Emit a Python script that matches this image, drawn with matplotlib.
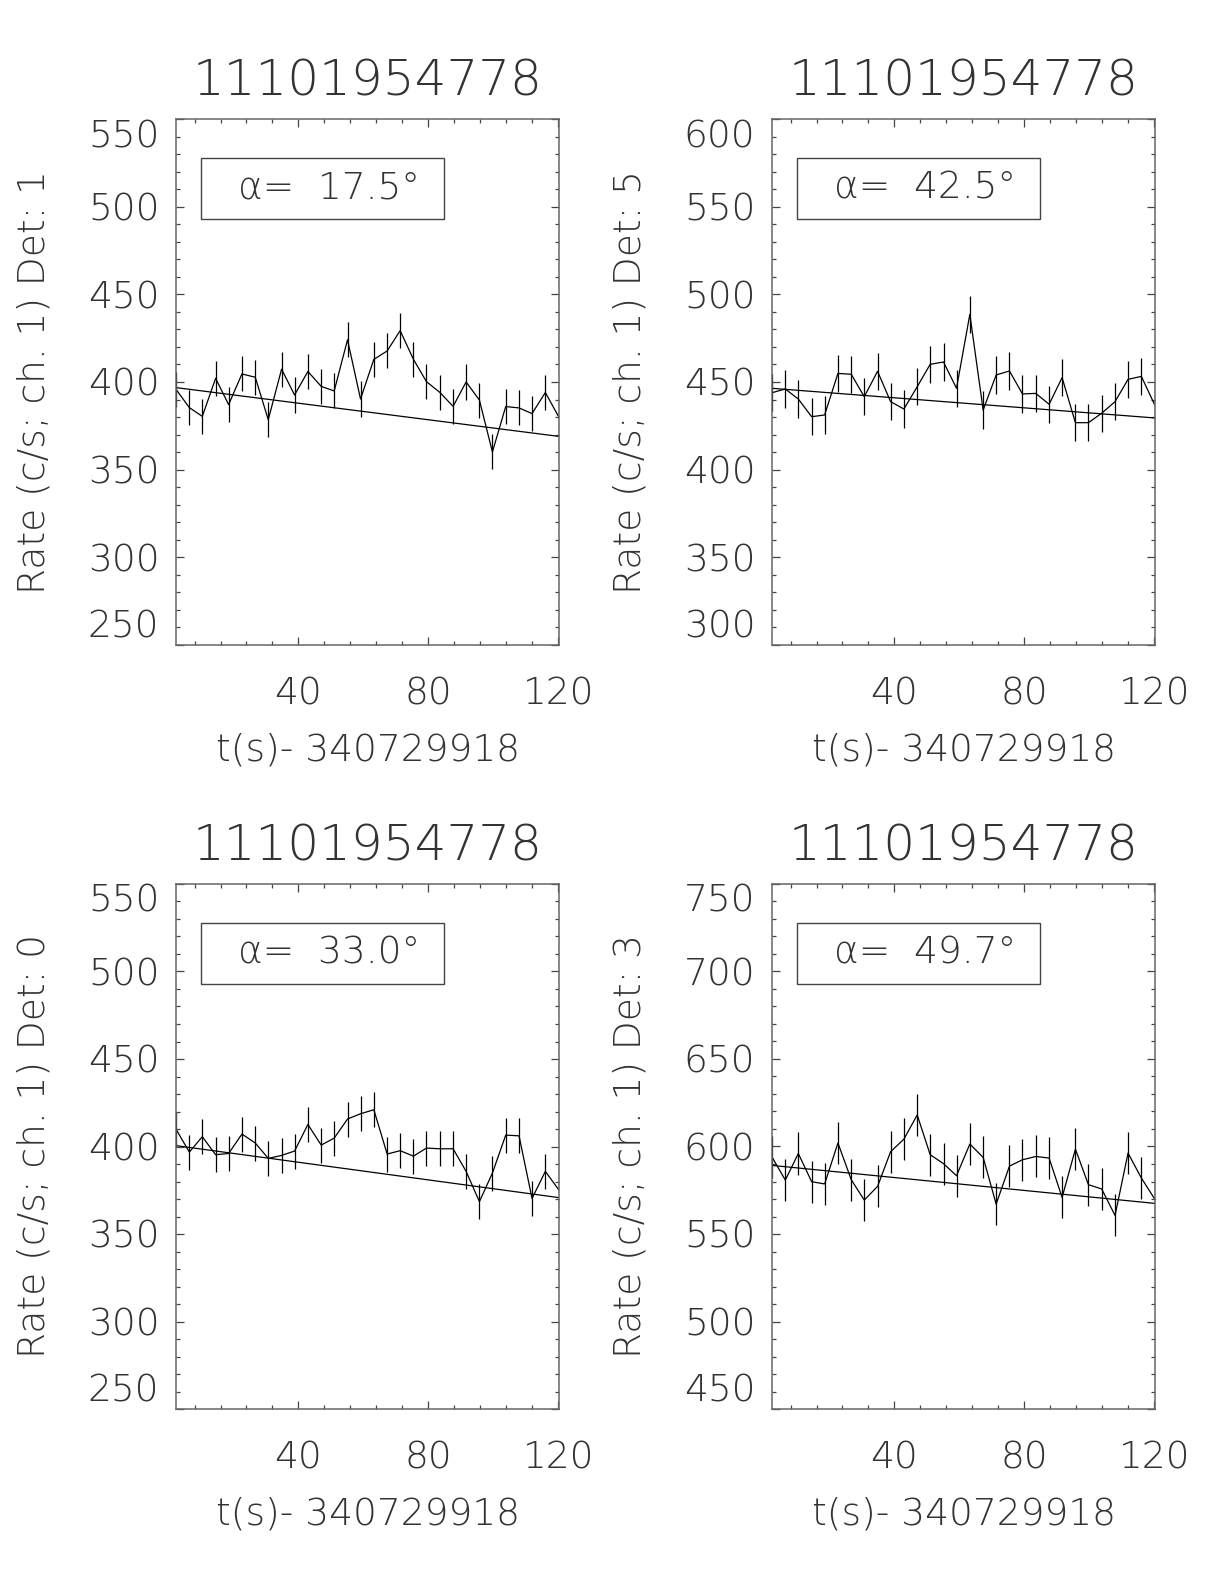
import numpy as np
import matplotlib
matplotlib.use("Agg")
import matplotlib.pyplot as plt
from matplotlib.patches import Rectangle
from matplotlib import font_manager

# thin font to mimic the IDL vector font, if one is installed
fam, wt = 'DejaVu Sans', 'normal'
for name in ['DejaVu Sans', 'Lato', 'Roboto', 'Open Sans', 'Inter', 'Noto Sans']:
    light = [f for f in font_manager.fontManager.ttflist
             if f.name == name and f.style == 'normal' and isinstance(f.weight, int) and f.weight <= 300]
    if light:
        fam = name
        wt = max(f.weight for f in light)
        break

plt.rcParams['font.family'] = [fam, 'DejaVu Sans']
plt.rcParams['font.weight'] = wt
plt.rcParams['axes.titleweight'] = wt
plt.rcParams['axes.labelweight'] = wt

# time bins (s since 340729918), same for every detector
t = [2.3, 6.4, 10.4, 14.5, 18.5, 22.6, 26.7, 30.7, 34.8, 38.8,
     42.9, 47.0, 51.0, 55.1, 59.1, 63.2, 67.3, 71.3, 75.4, 79.4,
     83.5, 87.6, 91.6, 95.7, 99.7, 103.8, 107.9, 111.9, 116.0, 120.1]

title = "11101954778"
xlab = "t(s)- 340729918"

det1 = [395.8, 385.4, 380.4, 402.1, 387.1, 404.6, 402.7, 378.5, 407.3, 392.6,
        406.0, 397.5, 394.9, 424.1, 390.3, 412.9, 417.7, 429.3, 412.9, 400.2,
        394.1, 386.1, 400.0, 389.7, 360.1, 386.0, 385.2, 382.0, 394.0, 380.2]
det5 = [443.9, 446.0, 440.3, 430.2, 431.2, 454.9, 454.4, 441.6, 456.1, 438.8,
        434.6, 447.3, 460.1, 461.4, 446.4, 488.6, 434.0, 454.0, 456.3, 443.2,
        443.5, 437.3, 452.5, 426.8, 426.8, 432.2, 438.8, 451.5, 453.2, 437.0]
det0 = [409.9, 396.8, 405.6, 395.3, 396.0, 407.1, 402.0, 393.2, 394.9, 397.4,
        412.6, 400.8, 404.8, 415.7, 418.7, 421.0, 395.7, 397.6, 394.5, 399.1,
        398.7, 398.7, 385.8, 368.5, 384.8, 406.5, 406.1, 370.3, 385.8, 375.3]
det3 = [594.0, 580.8, 596.0, 579.9, 578.6, 602.0, 581.0, 569.4, 577.2, 597.0,
        604.2, 618.0, 595.3, 590.2, 583.3, 601.4, 593.8, 567.1, 588.8, 592.4,
        594.3, 593.4, 570.9, 598.5, 578.2, 575.7, 560.6, 596.2, 582.0, 570.0]

# error bar half-length per detector, linear fit end values
errs = [10.0, 10.6, 10.0, 12.0]
fits = [(396.8, 369.0), (446.4, 429.5), (400.5, 370.8), (589.2, 567.5)]
rates = [det1, det5, det0, det3]
dets = ["1", "5", "0", "3"]
alphas = ["17.5", "42.5", "33.0", "49.7"]
ylims = [(250, 550), (300, 600), (250, 550), (450, 750)]

W, H = 1224, 1584
fig = plt.figure(figsize=(W / 100, H / 100), dpi=100)

boxes = [(176, 119, 559, 645), (772, 119, 1155, 645),
         (176, 884, 559, 1409), (772, 884, 1155, 1409)]

tc = '#333333'
for k in range(4):
    x0, y0, x1, y1 = boxes[k]
    ax = fig.add_axes([x0 / W, 1 - y1 / H, (x1 - x0) / W, (y1 - y0) / H])
    r = rates[k]
    ax.errorbar(t, r, yerr=errs[k], color='black', lw=0.9, elinewidth=0.9, capsize=0)
    ax.plot([t[0], t[-1]], fits[k], color='black', lw=0.9)

    ax.set_xlim(t[0], 120.2)
    ax.set_ylim(*ylims[k])
    lo, hi = ylims[k]
    ax.set_xticks([40, 80, 120])
    ax.set_xticks(np.arange(8, 121, 8), minor=True)
    ax.set_yticks(np.arange(lo, hi + 1, 50))
    ax.set_yticks(np.arange(lo, hi + 1, 10), minor=True)
    ax.tick_params(which='both', direction='in', top=True, right=True,
                   color='#444444', width=0.9, labelsize=27, labelcolor=tc)
    ax.tick_params(which='major', length=6)
    ax.tick_params(which='minor', length=3)
    ax.tick_params(axis='x', pad=23)
    ax.tick_params(axis='y', pad=12)
    for s in ax.spines.values():
        s.set_color('#666666')
        s.set_linewidth(1.1)

    yt = ax.yaxis.get_major_ticks()
    yt[0].label1.set_verticalalignment('bottom')
    yt[-1].label1.set_verticalalignment('top')

    ax.set_title(title, fontsize=36, color=tc, pad=17, fontweight=wt)
    ax.set_xlabel(xlab, fontsize=27, color=tc, labelpad=15, fontweight=wt)
    ax.set_ylabel("Rate (c/s; ch. 1) Det: " + dets[k], fontsize=27, color=tc,
                  labelpad=26, fontweight=wt)

    ax.add_patch(Rectangle((0.065, 0.81), 0.635, 0.116, transform=ax.transAxes,
                           fill=False, edgecolor='#444444', lw=1.0))
    ax.text(0.40, 0.868, "α=  " + alphas[k] + "°", transform=ax.transAxes,
            fontsize=27, color=tc, ha='center', va='center', fontweight=wt)

fig.savefig("out.png", dpi=100)
